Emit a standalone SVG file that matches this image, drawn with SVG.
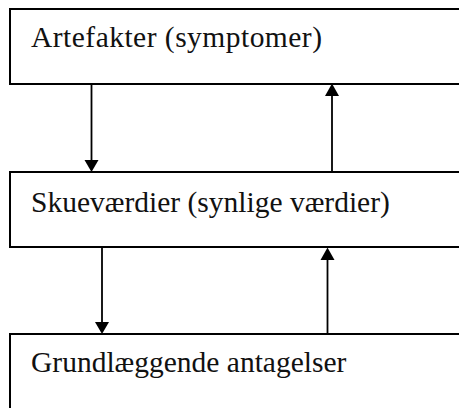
<svg xmlns="http://www.w3.org/2000/svg" width="459" height="408" viewBox="0 0 459 408">
<defs>
<style>
.box{fill:#fff;stroke:#000;stroke-width:2}
.lbl{font-family:"Liberation Serif","Times New Roman",serif;font-size:29.5px;fill:#111}
.con{stroke:#000;stroke-width:1.8;fill:none}
.head{fill:#000}
</style>
</defs>
<rect width="459" height="408" fill="#fff"/>
<g id="node-artefakter">
<rect class="box" x="10" y="9" width="460" height="75"/>
<text class="lbl" x="31" y="47" textLength="291">Artefakter (symptomer)</text>
</g>
<g id="node-skuevaerdier">
<rect class="box" x="10" y="172" width="460" height="75"/>
<text class="lbl" x="31" y="212">Skueværdier (synlige værdier)</text>
</g>
<g id="node-grundlaeggende">
<rect class="box" x="10" y="334" width="460" height="90"/>
<text class="lbl" x="31" y="372">Grundlæggende antagelser</text>
</g>
<g id="connectors">
<line class="con" x1="91.5" y1="84" x2="91.5" y2="161"/>
<polygon class="head" points="84.5,160 98.5,160 91.5,172"/>
<line class="con" x1="332" y1="172" x2="332" y2="95"/>
<polygon class="head" points="325,96 339,96 332,83.5"/>
<line class="con" x1="102" y1="247" x2="102" y2="323"/>
<polygon class="head" points="95,322 109,322 102,334"/>
<line class="con" x1="327.5" y1="334" x2="327.5" y2="259"/>
<polygon class="head" points="320.5,260 334.5,260 327.5,247.5"/>
</g>
</svg>
